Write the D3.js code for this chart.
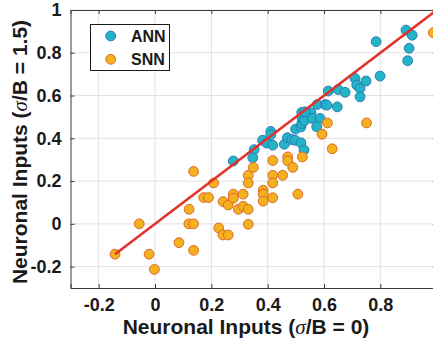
<!DOCTYPE html>
<html>
<head>
<meta charset="utf-8">
<script src="https://cdn.jsdelivr.net/npm/d3@7"></script>
<style>
  html, body { margin: 0; padding: 0; background: #fff; overflow: hidden; }
  svg { display: block; font-family: "Liberation Sans", Arial, Helvetica, sans-serif; }
</style>
</head>
<body>
<svg id="chart" width="433" height="345"></svg>
<script>
// ANN neuronal inputs: [sigma/B = 0, sigma/B = 1.5]
const annX = [0.278, 0.352, 0.347, 0.382, 0.396, 0.411, 0.411, 0.418, 0.459, 0.470,
              0.485, 0.497, 0.518, 0.529, 0.499, 0.518, 0.521, 0.522, 0.530, 0.521,
              0.554, 0.558, 0.586, 0.574, 0.576, 0.604, 0.610, 0.647, 0.615, 0.650,
              0.675, 0.710, 0.716, 0.728, 0.728, 0.749, 0.799, 0.785, 0.891, 0.913,
              0.902, 0.897, 0.532];
const annY = [0.294, 0.347, 0.309, 0.391, 0.378, 0.432, 0.416, 0.368, 0.372, 0.403,
              0.394, 0.391, 0.379, 0.345, 0.443, 0.453, 0.469, 0.494, 0.482, 0.521,
              0.519, 0.493, 0.493, 0.454, 0.558, 0.558, 0.555, 0.547, 0.621, 0.628,
              0.615, 0.680, 0.649, 0.633, 0.594, 0.668, 0.691, 0.852, 0.906, 0.882,
              0.821, 0.763, 0.524];

// SNN neuronal inputs: [sigma/B = 0, sigma/B = 1.5]
const snnX = [-0.142, -0.056, -0.021, -0.002, 0.085, 0.137, 0.120, 0.137, 0.121, 0.137,
              0.173, 0.190, 0.208, 0.226, 0.241, 0.260, 0.242, 0.260, 0.278, 0.278,
              0.313, 0.296, 0.313, 0.331, 0.331, 0.331, 0.349, 0.384, 0.384, 0.384,
              0.418, 0.418, 0.418, 0.418, 0.453, 0.471, 0.471, 0.489, 0.507, 0.523,
              0.629, 0.612, 0.593, 0.751, 0.988, 0.331];
const snnY = [-0.142, 0.000, -0.142, -0.213, -0.088, -0.124, 0.000, 0.000, 0.068, 0.245,
              0.123, 0.123, 0.191, -0.019, -0.052, -0.052, 0.104, 0.088, 0.139, 0.120,
              0.139, 0.068, 0.082, 0.068, 0.227, 0.191, 0.264, 0.157, 0.139, 0.106,
              0.296, 0.227, 0.191, 0.122, 0.227, 0.313, 0.295, 0.264, 0.139, 0.313,
              0.351, 0.472, 0.419, 0.472, 0.894, -0.002];

// identity reference line endpoints
const lineX = [-0.142, 1.0];

const xTicks = [-0.2, 0, 0.2, 0.4, 0.6, 0.8, 1];
const yTicks = [-0.2, 0, 0.2, 0.4, 0.6, 0.8, 1];
const xDomain = [-0.3, 1];
const yDomain = [-0.3, 1];

const seriesNames = ["ANN", "SNN"];
const fills = ["#22b5c6", "#f2b11e"];
const strokes = ["#2c7bb8", "#e2672a"];

const svg = d3.select("#chart");
const plot = { left: 70.5, top: 10, right: 436.7, bottom: 288 };

const x = d3.scaleLinear().domain(xDomain).range([plot.left, plot.right]);
const y = d3.scaleLinear().domain(yDomain).range([plot.bottom, plot.top]);

// plain hyphen minus, no trailing zeros on integers
const fmt = d => (d === 0 ? "0" : d === 1 ? "1" : d.toFixed(1));

// grid
const grid = svg.append("g").attr("stroke", "#e3e3e3").attr("stroke-width", 1);
xTicks.forEach(t => grid.append("line")
  .attr("x1", x(t)).attr("x2", x(t)).attr("y1", y(yDomain[0])).attr("y2", y(yDomain[1])));
yTicks.forEach(t => grid.append("line")
  .attr("x1", x(xDomain[0])).attr("x2", x(xDomain[1])).attr("y1", y(t)).attr("y2", y(t)));

// axes with inward ticks
const tickLen = 4;
const axisColor = "#3a3a3a";
const axB = svg.append("g").attr("transform", `translate(0,${y(yDomain[0])})`)
  .call(d3.axisBottom(x).tickValues(xTicks.filter(t => t < 1)).tickSize(-tickLen).tickPadding(10).tickFormat(fmt));
const axL = svg.append("g").attr("transform", `translate(${x(xDomain[0])},0)`)
  .call(d3.axisLeft(y).tickValues(yTicks).tickSize(-tickLen).tickPadding(9).tickFormat(fmt));
const axT = svg.append("g").attr("transform", `translate(0,${y(yDomain[1])})`)
  .call(d3.axisTop(x).tickValues(xTicks).tickSize(-tickLen).tickFormat(""));
const axR = svg.append("g").attr("transform", `translate(${x(xDomain[1])},0)`)
  .call(d3.axisRight(y).tickValues(yTicks).tickSize(-tickLen).tickFormat(""));

[axB, axL, axT, axR].forEach(a => {
  a.select(".domain").attr("stroke", axisColor).attr("stroke-width", 1);
  a.selectAll(".tick line").attr("stroke", axisColor);
  a.selectAll(".tick text").attr("fill", "#1a1a1a")
    .style("font-size", "18px").style("font-weight", "bold");
});

// points
const ann = annX.map((v, i) => ({ x: v, y: annY[i] }));
const snn = snnX.map((v, i) => ({ x: v, y: snnY[i] }));
const r = 4.9;

svg.append("g").selectAll("circle").data(ann).join("circle")
  .attr("cx", d => x(d.x)).attr("cy", d => y(d.y)).attr("r", r)
  .attr("fill", fills[0]).attr("stroke", strokes[0]).attr("stroke-width", 1);

svg.append("g").selectAll("circle").data(snn).join("circle")
  .attr("cx", d => x(d.x)).attr("cy", d => y(d.y)).attr("r", r)
  .attr("fill", fills[1]).attr("stroke", strokes[1]).attr("stroke-width", 1);

// y = x line
svg.append("line")
  .attr("x1", x(lineX[0])).attr("y1", y(lineX[0]))
  .attr("x2", x(lineX[1])).attr("y2", y(lineX[1]))
  .attr("stroke", "#e2302a").attr("stroke-width", 2.5);

// legend
const lg = svg.append("g");
lg.append("rect").attr("x", 90.5).attr("y", 24.5).attr("width", 79).attr("height", 46)
  .attr("fill", "#fff").attr("stroke", "#1a1a1a").attr("stroke-width", 1);
seriesNames.forEach((name, i) => {
  const cy = 36 + i * 23.3;
  lg.append("circle").attr("cx", 110.7).attr("cy", cy).attr("r", r)
    .attr("fill", fills[i]).attr("stroke", strokes[i]).attr("stroke-width", 1);
  lg.append("text").attr("x", 131).attr("y", cy + 5.7)
    .attr("fill", "#1a1a1a").style("font-size", "16px").style("font-weight", "bold")
    .text(name);
});

// axis titles
function title(sel, before, after) {
  sel.attr("text-anchor", "middle").attr("fill", "#1a1a1a")
    .style("font-size", "21px").style("font-weight", "bold");
  sel.append("tspan").text(before);
  sel.append("tspan").style("font-style", "italic").style("font-weight", "normal")
    .style("font-family", "'Liberation Serif', 'DejaVu Serif', serif").text("σ");
  sel.append("tspan").text(after);
}
title(svg.append("text").attr("x", 246).attr("y", 334), "Neuronal Inputs (", "/B = 0)");
title(svg.append("text").attr("transform", "translate(27,152) rotate(-90)"), "Neuronal Inputs (", "/B = 1.5)");
</script>
</body>
</html>
